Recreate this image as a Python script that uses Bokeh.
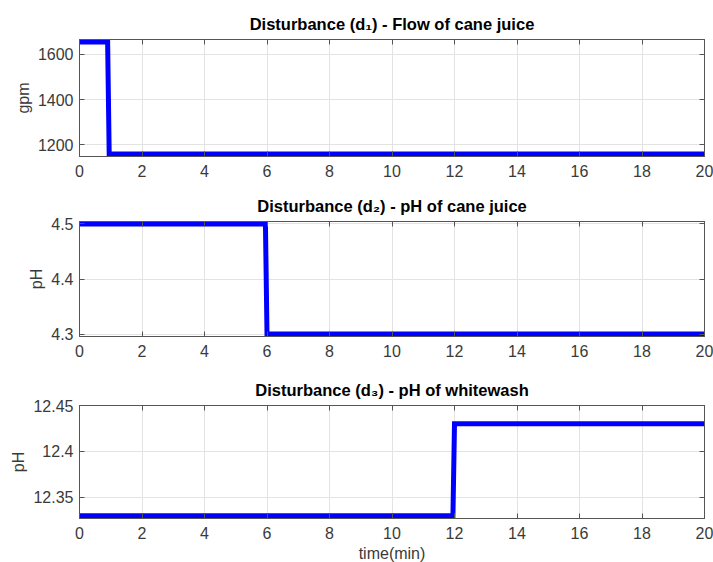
from bokeh.plotting import figure
from bokeh.layouts import column
from bokeh.models import FixedTicker, LinearAxis, Range1d
from bokeh.embed import file_html
from bokeh.resources import INLINE

# ---- data ----
x_ticks = [0, 2, 4, 6, 8, 10, 12, 14, 16, 18, 20]

d1_time = [0, 0.9, 0.95, 20]
d1_flow = [1655, 1655, 1160, 1160]
d1_ticks = [1200, 1400, 1600]
d1_labels = ["1200", "1400", "1600"]

d2_time = [0, 5.95, 6.0, 20]
d2_ph = [4.5, 4.5, 4.3, 4.3]
d2_ticks = [4.3, 4.4, 4.5]
d2_labels = ["4.3", "4.4", "4.5"]

d3_time = [0, 11.95, 12.0, 20]
d3_ph = [12.33, 12.33, 12.43, 12.43]
d3_ticks = [12.35, 12.4, 12.45]
d3_labels = ["12.35", "12.4", "12.45"]

titles = ["Disturbance (d\u2081) - Flow of cane juice",
          "Disturbance (d\u2082) - pH of cane juice",
          "Disturbance (d\u2083) - pH of whitewash"]
ylabels = ["gpm", "pH", "pH"]
xlabel = "time(min)"

FONT = "Liberation Sans"
TICK_COL = "#3a3a3a"
BOX_COL = "#555555"
GRID_COL = "#e3e3e3"


def style_axis(ax, ticks, labels=None, show=True, standoff=6):
    ax.ticker = FixedTicker(ticks=ticks)
    ax.minor_tick_line_color = None
    ax.major_tick_in = 5
    ax.major_tick_out = 0
    ax.major_tick_line_color = BOX_COL
    ax.axis_line_color = BOX_COL
    if labels is not None:
        ax.major_label_overrides = {t: l for t, l in zip(ticks, labels)}
    if show:
        ax.major_label_text_font = FONT
        ax.major_label_text_font_size = "16px"
        ax.major_label_text_color = TICK_COL
        ax.major_label_standoff = standoff
        ax.axis_label_text_font = FONT
        ax.axis_label_text_font_size = "16px"
        ax.axis_label_text_font_style = "normal"
        ax.axis_label_text_color = TICK_COL
        ax.axis_label_standoff = 3
    else:
        ax.major_label_text_font_size = "0px"
        ax.major_label_standoff = 0
        ax.major_label_text_color = None


def make_fig(title, ylab, t, v, yr, yticks, ylabels_, frame_h, top, bottom, xlab=None):
    p = figure(frame_width=625, frame_height=frame_h,
               x_range=Range1d(0, 20), y_range=Range1d(*yr),
               output_backend="svg", toolbar_location=None,
               min_border_left=79, min_border_right=9,
               min_border_top=top, min_border_bottom=bottom,
               background_fill_color="white", border_fill_color="white")
    p.outline_line_color = BOX_COL
    p.outline_line_width = 1
    p.title.text = title
    p.title.text_font = FONT
    p.title.text_font_size = "16.5px"
    p.title.text_font_style = "bold"
    p.title.text_color = "black"
    p.title.align = "center"
    p.title.vertical_align = "top"
    p.title.standoff = 10

    style_axis(p.xaxis[0], x_ticks, standoff=8)
    style_axis(p.yaxis[0], yticks, ylabels_, standoff=6)
    p.yaxis[0].axis_label = ylab
    if xlab:
        p.xaxis[0].axis_label = xlab

    top_ax = LinearAxis()
    style_axis(top_ax, x_ticks, show=False)
    p.add_layout(top_ax, "above")
    right_ax = LinearAxis()
    style_axis(right_ax, yticks, show=False)
    p.add_layout(right_ax, "right")

    p.xgrid.ticker = FixedTicker(ticks=x_ticks)
    p.ygrid.ticker = FixedTicker(ticks=yticks)
    p.xgrid.grid_line_color = GRID_COL
    p.ygrid.grid_line_color = GRID_COL

    p.line(t, v, line_color="#0000ff", line_width=5, line_join="miter")
    return p


p1 = make_fig(titles[0], ylabels[0], d1_time, d1_flow, (1149, 1666),
              d1_ticks, d1_labels, 117, 39, 28)
p2 = make_fig(titles[1], ylabels[1], d2_time, d2_ph, (4.2955, 4.5045),
              d2_ticks, d2_labels, 115, 37, 32)
p3 = make_fig(titles[2], ylabels[2], d3_time, d3_ph, (12.327, 12.45),
              d3_ticks, d3_labels, 113, 37, 44, xlab=xlabel)

layout = column(p1, p2, p3, spacing=0)
open("out.html", "w").write(file_html(layout, INLINE))
